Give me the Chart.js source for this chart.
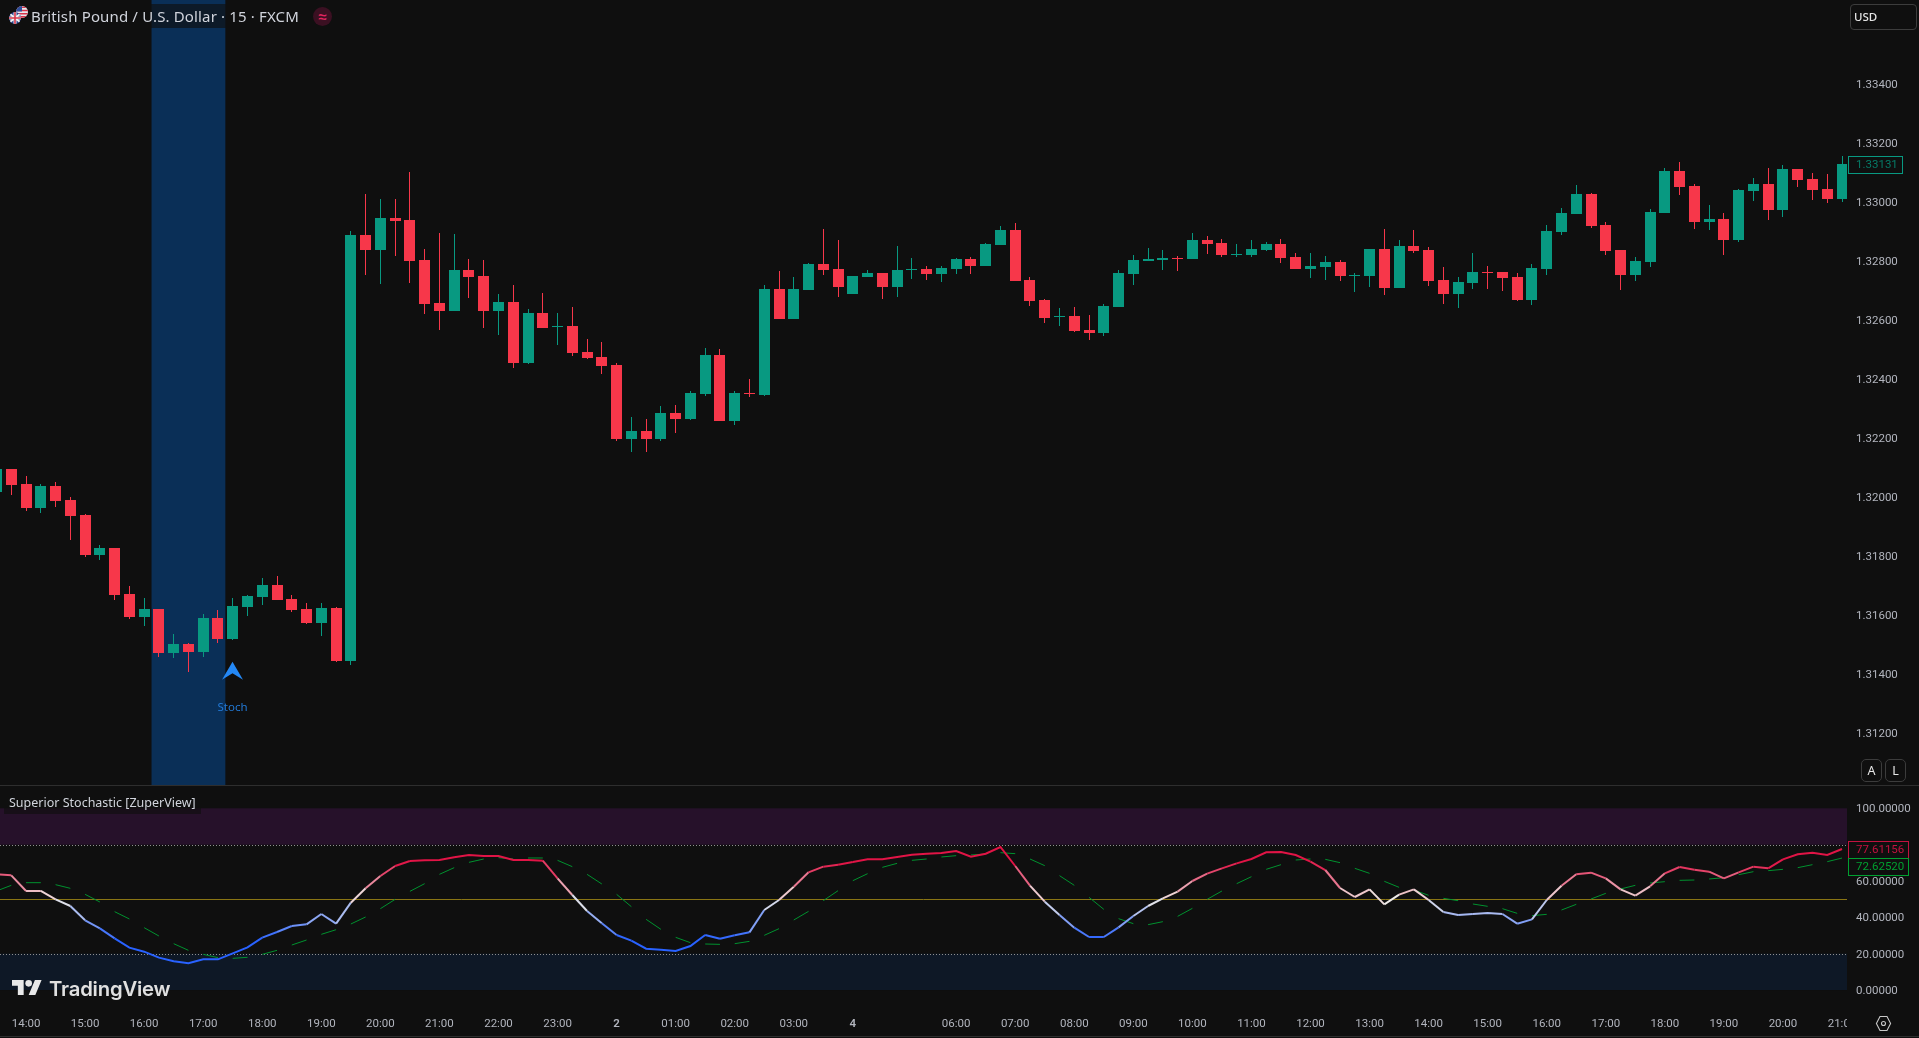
<!DOCTYPE html>
<html>
<head>
<meta charset="utf-8">
<title>British Pound / U.S. Dollar</title>
<script src="https://cdn.jsdelivr.net/npm/chart.js@4"></script>
<style>
  html, body { margin: 0; padding: 0; width: 1919px; height: 1038px; overflow: hidden; background: #0f0f0f; }
  body { font-family: "Noto Sans", sans-serif; color: #d1d4dc; }
  canvas { position: absolute; left: 0; }
  #priceCanvas { top: 0; }
  #stochCanvas { top: 786px; }
  .abs { position: absolute; }
  #title { left: 0; top: 4px; height: 24px; width: 336px; background: rgba(15,15,15,0.65); }
  #titleText { left: 31px; top: 4px; height: 24px; line-height: 24px; font-size: 15px; letter-spacing: 0.15px; color: #d1d4dc; white-space: nowrap; }
  #badge { left: 313px; top: 7px; width: 19px; height: 19px; border-radius: 50%; background: #3b1022; color: #e0245e; text-align: center; line-height: 18px; font-size: 15px; font-weight: 700; }
  #usd { left: 1850px; top: 4px; width: 65px; height: 24px; border: 1px solid #3c3c3c; border-radius: 4px; line-height: 24px; font-size: 11.5px; font-weight: 500; color: #e6e6e6; text-indent: 3px; }
  .btn { top: 759px; width: 19px; height: 21px; border: 1px solid #3c3c3c; border-radius: 5px; text-align: center; line-height: 21px; font-size: 12.5px; color: #e6e6e6; }
  #sep { left: 0; top: 785px; width: 1919px; height: 1px; background: #2e2e2e; }
  #paneName { left: 4px; top: 792px; height: 22px; width: 197px; background: rgba(15,15,15,0.65); }
  #paneNameText { left: 9px; top: 792px; height: 22px; line-height: 22px; font-size: 12.5px; color: #d1d4dc; white-space: nowrap; }
  #logoText { left: 49px; top: 976px; line-height: 26px; font-family: Inter, sans-serif; font-size: 20.3px; font-weight: 600; color: #e0e0e0; letter-spacing: -0.2px; }
  #corner { left: 1847px; top: 1010px; width: 72px; height: 26px; background: #0f0f0f; }
  #bottom { left: 0; top: 1036px; width: 1919px; height: 1px; background: #2e2e2e; }
</style>
</head>
<body>
<canvas id="priceCanvas" width="1919" height="786"></canvas>
<canvas id="stochCanvas" width="1919" height="252"></canvas>

<div class="abs" id="title"></div>
<svg class="abs" style="left:7px;top:5px" width="24" height="24" viewBox="0 0 24 24">
  <defs><clipPath id="usClip"><circle cx="15" cy="7" r="6"/></clipPath><clipPath id="ukClip"><circle cx="8" cy="13" r="6"/></clipPath></defs>
  <g clip-path="url(#usClip)">
    <rect x="9" y="1" width="12" height="12" fill="#e8e8ee"/>
    <path d="M9 1.5h12v1.6H9zM9 4.7h12v1.6H9zM9 7.9h12v1.6H9zM9 11.1h12v1.6H9z" fill="#d8344a"/>
    <rect x="9" y="1" width="6" height="5.5" fill="#2f4f9a"/>
  </g>
  <g clip-path="url(#ukClip)">
    <rect x="2" y="7" width="12" height="12" fill="#27408b"/>
    <path d="M3 9l10 8M13 9L3 17" stroke="#f0f0f0" stroke-width="2"/>
    <path d="M8 7v12M2 13h12" stroke="#f0f0f0" stroke-width="3"/>
    <path d="M8 7v12M2 13h12" stroke="#d8344a" stroke-width="1.6"/>
  </g>
</svg>
<div class="abs" id="titleText">British Pound / U.S. Dollar · 15 · FXCM</div>
<div class="abs" id="badge">≈</div>
<div class="abs" id="usd">USD</div>
<div class="abs btn" style="left:1861px">A</div>
<div class="abs btn" style="left:1885px">L</div>
<div class="abs" id="sep"></div>
<div class="abs" id="paneName"></div>
<div class="abs" id="paneNameText">Superior Stochastic [ZuperView]</div>
<svg class="abs" style="left:12px;top:980px" width="30" height="15" viewBox="0 4 36 18">
  <path fill="#e8e8e8" d="M14 22H7V11H0V4h14v18zM28 22h-8l7.5-18h8L28 22z"/><circle fill="#e8e8e8" cx="20" cy="8" r="4"/>
</svg>
<div class="abs" id="logoText">TradingView</div>
<div class="abs" id="corner">
  <svg style="position:absolute;left:28px;top:5px" width="17" height="17" viewBox="0 0 17 17" fill="none" stroke="#c8c8c8" stroke-width="1.1">
    <path d="M5 1.5h7l3.6 7-3.6 7H5l-3.6-7z"/><circle cx="8.5" cy="8.5" r="2"/>
  </svg>
</div>
<div class="abs" id="bottom"></div>

<script>
// candles, oldest first; the first one is only just on screen at the left edge
const opens = [
  1.32018, 1.32096, 1.32045, 1.31964, 1.32039, 1.31991, 1.31940, 1.31805, 1.31829, 1.31673, 1.31595, 1.31622, 1.31473,
  1.31503, 1.31476, 1.31591, 1.31520, 1.31629, 1.31662, 1.31703, 1.31656, 1.31622, 1.31574, 1.31625, 1.31445, 1.32890,
  1.32839, 1.32947, 1.32940, 1.32805, 1.32659, 1.32632, 1.32771, 1.32751, 1.32632, 1.32662, 1.32456, 1.32625, 1.32578,
  1.32581, 1.32493, 1.32476, 1.32449, 1.32198, 1.32225, 1.32198, 1.32286, 1.32266, 1.32350, 1.32483, 1.32259, 1.32354,
  1.32347, 1.32706, 1.32605, 1.32703, 1.32791, 1.32774, 1.32689, 1.32747, 1.32761, 1.32713, 1.32771, 1.32774, 1.32757,
  1.32774, 1.32808, 1.32784, 1.32856, 1.32906, 1.32737, 1.32669, 1.32611, 1.32615, 1.32567, 1.32557, 1.32645, 1.32757,
  1.32801, 1.32805, 1.32812, 1.32808, 1.32873, 1.32862, 1.32822, 1.32822, 1.32839, 1.32859, 1.32815, 1.32774, 1.32781,
  1.32798, 1.32750, 1.32750, 1.32842, 1.32710, 1.32852, 1.32839, 1.32737, 1.32689, 1.32727, 1.32764, 1.32764, 1.32747,
  1.32669, 1.32774, 1.32900, 1.32961, 1.33028, 1.32923, 1.32839, 1.32754, 1.32798, 1.32964, 1.33106, 1.33056, 1.32934,
  1.32944, 1.32873, 1.33039, 1.33062, 1.32974, 1.33113, 1.33079, 1.33045, 1.33012
];
const highs = [
  1.32100, 1.32096, 1.32073, 1.32045, 1.32052, 1.32001, 1.31944, 1.31839, 1.31829, 1.31700, 1.31659, 1.31622, 1.31537,
  1.31506, 1.31605, 1.31618, 1.31659, 1.31669, 1.31727, 1.31734, 1.31669, 1.31642, 1.31642, 1.31629, 1.32903, 1.33028,
  1.33012, 1.33012, 1.33103, 1.32842, 1.32896, 1.32893, 1.32808, 1.32805, 1.32690, 1.32720, 1.32639, 1.32693, 1.32625,
  1.32645, 1.32537, 1.32527, 1.32456, 1.32273, 1.32266, 1.32310, 1.32313, 1.32361, 1.32506, 1.32503, 1.32361, 1.32401,
  1.32720, 1.32767, 1.32747, 1.32795, 1.32910, 1.32873, 1.32750, 1.32771, 1.32761, 1.32852, 1.32811, 1.32784, 1.32784,
  1.32811, 1.32815, 1.32862, 1.32920, 1.32930, 1.32747, 1.32672, 1.32642, 1.32645, 1.32618, 1.32656, 1.32771, 1.32822,
  1.32845, 1.32839, 1.32818, 1.32896, 1.32886, 1.32876, 1.32859, 1.32873, 1.32866, 1.32876, 1.32828, 1.32828, 1.32818,
  1.32805, 1.32761, 1.32842, 1.32910, 1.32873, 1.32906, 1.32849, 1.32781, 1.32747, 1.32828, 1.32784, 1.32764, 1.32761,
  1.32791, 1.32923, 1.32981, 1.33059, 1.33032, 1.32934, 1.32839, 1.32815, 1.32978, 1.33117, 1.33137, 1.33062, 1.32991,
  1.32964, 1.33045, 1.33083, 1.33117, 1.33127, 1.33113, 1.33100, 1.33096, 1.33157
];
const lows = [
  1.32015, 1.32008, 1.31954, 1.31947, 1.31967, 1.31856, 1.31798, 1.31788, 1.31652, 1.31588, 1.31564, 1.31459, 1.31456,
  1.31408, 1.31459, 1.31506, 1.31517, 1.31598, 1.31635, 1.31652, 1.31612, 1.31571, 1.31530, 1.31442, 1.31432, 1.32754,
  1.32723, 1.32818, 1.32727, 1.32622, 1.32567, 1.32632, 1.32676, 1.32574, 1.32550, 1.32439, 1.32452, 1.32574, 1.32517,
  1.32479, 1.32469, 1.32418, 1.32191, 1.32154, 1.32154, 1.32191, 1.32218, 1.32262, 1.32344, 1.32259, 1.32245, 1.32340,
  1.32344, 1.32605, 1.32605, 1.32703, 1.32754, 1.32679, 1.32689, 1.32747, 1.32672, 1.32679, 1.32740, 1.32737, 1.32730,
  1.32757, 1.32757, 1.32784, 1.32856, 1.32734, 1.32649, 1.32591, 1.32581, 1.32561, 1.32534, 1.32547, 1.32645, 1.32720,
  1.32801, 1.32771, 1.32767, 1.32808, 1.32825, 1.32815, 1.32815, 1.32815, 1.32835, 1.32795, 1.32774, 1.32744, 1.32737,
  1.32733, 1.32696, 1.32713, 1.32686, 1.32710, 1.32828, 1.32717, 1.32656, 1.32642, 1.32706, 1.32706, 1.32700, 1.32666,
  1.32652, 1.32754, 1.32890, 1.32961, 1.32913, 1.32822, 1.32703, 1.32734, 1.32781, 1.32964, 1.33025, 1.32910, 1.32906,
  1.32822, 1.32866, 1.33005, 1.32940, 1.32951, 1.33052, 1.33008, 1.32998, 1.33001
];
const closes = [
  1.32096, 1.32042, 1.31964, 1.32039, 1.31988, 1.31937, 1.31805, 1.31829, 1.31669, 1.31595, 1.31622, 1.31473, 1.31503,
  1.31476, 1.31591, 1.31520, 1.31632, 1.31666, 1.31703, 1.31652, 1.31618, 1.31574, 1.31625, 1.31445, 1.32890, 1.32839,
  1.32947, 1.32937, 1.32801, 1.32656, 1.32632, 1.32771, 1.32747, 1.32632, 1.32662, 1.32456, 1.32625, 1.32574, 1.32581,
  1.32489, 1.32473, 1.32445, 1.32198, 1.32225, 1.32198, 1.32286, 1.32266, 1.32354, 1.32483, 1.32259, 1.32354, 1.32350,
  1.32706, 1.32605, 1.32706, 1.32791, 1.32771, 1.32713, 1.32750, 1.32761, 1.32713, 1.32771, 1.32774, 1.32757, 1.32778,
  1.32808, 1.32784, 1.32859, 1.32906, 1.32734, 1.32666, 1.32608, 1.32615, 1.32564, 1.32557, 1.32649, 1.32761, 1.32805,
  1.32808, 1.32812, 1.32808, 1.32873, 1.32859, 1.32822, 1.32825, 1.32842, 1.32859, 1.32812, 1.32774, 1.32784, 1.32798,
  1.32750, 1.32754, 1.32842, 1.32710, 1.32852, 1.32835, 1.32733, 1.32689, 1.32730, 1.32764, 1.32761, 1.32744, 1.32669,
  1.32778, 1.32903, 1.32964, 1.33028, 1.32920, 1.32835, 1.32754, 1.32801, 1.32967, 1.33106, 1.33052, 1.32934, 1.32944,
  1.32873, 1.33042, 1.33062, 1.32974, 1.33113, 1.33076, 1.33042, 1.33012, 1.33131
];

// Superior Stochastic pane, same bars as the candles
const stochK = [
  63.66, 63.11, 54.49, 54.49, 49.90, 46.23, 38.34, 33.94, 28.44, 23.30, 21.10, 17.80, 15.78, 14.68, 16.88, 16.88, 20.18,
  23.48, 28.80, 31.92, 35.22, 36.14, 41.83, 36.51, 48.06, 55.95, 62.74, 68.24, 71.00, 71.36, 71.55, 73.01, 74.30, 73.75,
  73.75, 71.55, 71.55, 71.18, 61.46, 52.28, 43.48, 36.69, 30.27, 27.15, 22.75, 22.20, 21.46, 24.22, 30.27, 28.25, 30.09,
  31.74, 44.03, 49.53, 56.87, 64.76, 67.88, 68.98, 70.45, 71.91, 71.91, 73.20, 74.48, 75.03, 75.40, 76.50, 73.38, 75.03,
  78.70, 68.24, 57.42, 48.62, 41.28, 34.31, 29.17, 29.17, 34.49, 40.73, 46.23, 50.45, 54.12, 59.99, 64.02, 66.96, 69.71,
  72.10, 75.77, 75.95, 74.30, 70.63, 66.04, 56.14, 51.18, 55.40, 47.15, 52.47, 55.40, 49.53, 42.93, 41.28, 41.83, 42.38,
  41.83, 36.51, 38.89, 49.53, 57.42, 63.66, 64.57, 61.46, 55.40, 51.92, 57.05, 64.21, 67.69, 66.23, 65.13, 61.46, 64.76,
  67.88, 66.96, 71.91, 74.66, 75.58, 74.30, 77.61
];
const stochD = [
  54.49, 57.60, 59.07, 59.07, 57.97, 55.95, 52.65, 48.43, 43.11, 39.08, 34.31, 29.72, 25.50, 21.83, 19.63, 17.80, 17.43,
  17.98, 19.63, 21.83, 24.77, 27.52, 30.64, 33.20, 36.32, 40.18, 44.76, 49.90, 54.30, 58.52, 63.66, 67.33, 70.26, 72.10,
  72.83, 72.10, 72.65, 72.65, 71.36, 67.88, 63.66, 58.34, 52.65, 45.86, 38.89, 33.39, 28.99, 26.05, 25.32, 25.13, 25.50,
  26.78, 30.09, 33.76, 38.52, 43.29, 49.17, 54.67, 60.17, 64.02, 67.51, 69.71, 71.36, 72.10, 73.20, 73.93, 74.30, 74.85,
  75.58, 75.03, 72.10, 68.43, 62.92, 57.60, 51.00, 44.40, 39.26, 36.51, 35.96, 37.61, 40.54, 44.95, 49.90, 54.49, 58.52,
  62.37, 66.41, 68.98, 71.55, 72.10, 71.91, 70.08, 66.96, 64.21, 59.81, 56.50, 55.04, 52.10, 50.45, 49.17, 47.33, 46.05,
  44.76, 42.19, 40.91, 41.64, 44.03, 47.15, 50.08, 53.20, 55.59, 57.60, 58.89, 59.62, 60.36, 60.54, 61.09, 61.82, 63.47,
  65.13, 65.68, 66.41, 67.33, 68.98, 70.63, 72.63
];

const priceTicks = [1.312, 1.314, 1.316, 1.318, 1.32, 1.322, 1.324, 1.326, 1.328, 1.33, 1.332, 1.334];
const stochTicks = [0, 20, 40, 60, 80, 100];
const timeBars = [2, 6, 10, 14, 18, 22, 26, 30, 34, 38, 42, 46, 50, 54, 58, 65, 69, 73, 77, 81, 85, 89, 93, 97, 101, 105, 109, 113, 117, 121, 125];
const timeLabels = ['14:00', '15:00', '16:00', '17:00', '18:00', '19:00', '20:00', '21:00', '22:00', '23:00', '2', '01:00', '02:00', '03:00', '4', '06:00', '07:00', '08:00', '09:00', '10:00', '11:00', '12:00', '13:00', '14:00', '15:00', '16:00', '17:00', '18:00', '19:00', '20:00', '21:00'];

const signalBars = [11, 15];      // bars behind the blue highlight
const arrowBar = 16;
const arrowPrice = 1.31443;
const lastClose = 1.33131;
const overbought = [80, 100];
const oversold = [0, 20];
const midLevel = 50;

const GREEN = '#089981';
const RED = '#f7374a';
const AXIS_TEXT = '#b2b5be';
const AXIS_FONT = { family: 'Roboto', size: 11.5 };
// x view shared by both panes, and the width of the right hand axis
const X_MIN = 0.236;
const X_MAX = 125.338;
const AXIS_WIDTH = 72;

const bars = opens.map((_, i) => i);
const candleColors = opens.map((o, i) => (closes[i] >= o ? GREEN : RED));

// TradingView snaps candles to whole pixels, do the same so the edges stay sharp
const snapCandlesPlugin = {
  id: 'snapCandles',
  beforeDatasetsDraw(chart) {
    chart.getSortedVisibleDatasetMetas().forEach((meta) => {
      meta.data.forEach((bar) => {
        bar.x = Math.floor(bar.x) + 0.5;
        bar.y = Math.round(bar.y);
        bar.base = Math.round(bar.base);
        if (bar.base === bar.y) bar.base += 1;
      });
    });
  },
};

const highlightPlugin = {
  id: 'highlight',
  beforeDatasetsDraw(chart) {
    const { ctx, chartArea, scales } = chart;
    const left = scales.x.getPixelForValue(signalBars[0] - 0.5);
    const right = scales.x.getPixelForValue(signalBars[1] + 0.5);
    ctx.save();
    ctx.fillStyle = '#0a2f57';
    ctx.fillRect(left, chartArea.top, right - left, chartArea.bottom - chartArea.top);
    ctx.restore();
  },
};

const markerPlugin = {
  id: 'marker',
  afterDatasetsDraw(chart) {
    const { ctx, scales } = chart;
    const x = Math.floor(scales.x.getPixelForValue(arrowBar)) + 0.5;
    const y = scales.y.getPixelForValue(arrowPrice);
    ctx.save();
    ctx.fillStyle = '#2488f5';
    ctx.beginPath();
    ctx.moveTo(x, y);
    ctx.lineTo(x + 10.5, y + 18);
    ctx.lineTo(x, y + 11.5);
    ctx.lineTo(x - 10.5, y + 18);
    ctx.closePath();
    ctx.fill();
    ctx.fillStyle = '#2278d4';
    ctx.font = '11.5px "Noto Sans"';
    ctx.textAlign = 'center';
    ctx.textBaseline = 'middle';
    ctx.fillText('Stoch', x, y + 46);
    ctx.restore();
  },
};

function drawValueTag(ctx, y, width, text, color, textColor) {
  const top = Math.round(y) - 7;
  ctx.fillStyle = '#0f0f0f';
  ctx.fillRect(1848, top, width, 16);
  ctx.strokeStyle = color;
  ctx.lineWidth = 1;
  ctx.strokeRect(1848.5, top - 0.5, width, 17);
  ctx.fillStyle = textColor;
  ctx.font = '11.5px Roboto';
  ctx.textAlign = 'left';
  ctx.textBaseline = 'middle';
  ctx.fillText(text, 1856, top + 8.5);
}

const lastPricePlugin = {
  id: 'lastPrice',
  afterDraw(chart) {
    const { ctx, scales } = chart;
    ctx.save();
    drawValueTag(ctx, scales.y.getPixelForValue(lastClose), 54, lastClose.toFixed(5), GREEN, '#067a67');
    ctx.restore();
  },
};

const stochLevelsPlugin = {
  id: 'stochLevels',
  beforeDatasetsDraw(chart) {
    const { ctx, chartArea, scales } = chart;
    const y = scales.y;
    const band = (range, color) => {
      ctx.fillStyle = color;
      ctx.fillRect(0, y.getPixelForValue(range[1]), chartArea.right, y.getPixelForValue(range[0]) - y.getPixelForValue(range[1]));
    };
    const level = (value, color, dash) => {
      const py = Math.round(y.getPixelForValue(value)) + 0.5;
      ctx.strokeStyle = color;
      ctx.lineWidth = 1;
      ctx.setLineDash(dash);
      ctx.beginPath();
      ctx.moveTo(0, py);
      ctx.lineTo(chartArea.right, py);
      ctx.stroke();
    };
    ctx.save();
    band(overbought, '#26112a');
    band(oversold, '#0e1826');
    level(overbought[0], '#8f8f8f', [1, 2]);
    level(oversold[1], '#8f8f8f', [1, 2]);
    level(midLevel, '#8a7514', []);
    ctx.restore();
  },
  afterDraw(chart) {
    const { ctx, scales } = chart;
    const kY = scales.y.getPixelForValue(stochK[stochK.length - 1]);
    const dY = Math.max(scales.y.getPixelForValue(stochD[stochD.length - 1]), kY + 17);
    ctx.save();
    drawValueTag(ctx, kY, 60, '77.61156', '#c2123f', '#c2123f');
    drawValueTag(ctx, dY, 60, '72.62520', '#00a030', '#00a030');
    ctx.restore();
  },
};

// blue under 50, white around 50, crimson above
function stochColor(value) {
  const low = [41, 98, 255];
  const mid = [240, 236, 232];
  const high = [225, 20, 70];
  let to = high;
  let t = (value - 50) / 20;
  if (value < 50) {
    to = low;
    t = (50 - value) / 22;
  }
  t = Math.min(1, Math.max(0, t));
  const rgb = mid.map((c, i) => Math.round(c + (to[i] - c) * t));
  return `rgb(${rgb.join(',')})`;
}

// chart.js reserves half a label above and below, the panes run edge to edge here
const noPadding = (scale) => {
  scale.paddingTop = 0;
  scale.paddingBottom = 0;
  scale.paddingLeft = 0;
  scale.paddingRight = 0;
};

const sideAxis = (ticks, format) => ({
  position: 'right',
  grid: { display: false, drawTicks: false },
  border: { display: false },
  afterFit(scale) {
    scale.width = AXIS_WIDTH;
    noPadding(scale);
  },
  afterBuildTicks(scale) { scale.ticks = ticks.map((value) => ({ value })); },
  ticks: { color: AXIS_TEXT, font: AXIS_FONT, padding: 9, labelOffset: 1, callback: format },
});

new Chart(document.getElementById('priceCanvas'), {
  type: 'bar',
  plugins: [highlightPlugin, snapCandlesPlugin, markerPlugin, lastPricePlugin],
  data: {
    datasets: [
      {
        label: 'Wick',
        data: bars.map((x, i) => ({ x, y: [lows[i], highs[i]] })),
        backgroundColor: candleColors,
        barThickness: 1,
        grouped: false,
        inflateAmount: 0,
        order: 2,
      },
      {
        label: 'Body',
        data: bars.map((x, i) => ({ x, y: [opens[i], closes[i]] })),
        backgroundColor: candleColors,
        barThickness: 11,
        grouped: false,
        inflateAmount: 0,
        order: 1,
      },
    ],
  },
  options: {
    responsive: false,
    animation: false,
    events: [],
    layout: { padding: 0 },
    plugins: { legend: { display: false }, tooltip: { enabled: false } },
    scales: {
      x: { type: 'linear', display: false, offset: false, min: X_MIN, max: X_MAX },
      y: { ...sideAxis(priceTicks, (v) => v.toFixed(5)), min: 1.310217, max: 1.336861 },
    },
  },
});

new Chart(document.getElementById('stochCanvas'), {
  type: 'line',
  plugins: [stochLevelsPlugin],
  data: {
    datasets: [
      {
        label: '%K',
        data: bars.map((x, i) => ({ x, y: stochK[i] })),
        borderWidth: 2,
        pointRadius: 0,
        tension: 0,
        segment: { borderColor: (ctx) => stochColor((ctx.p0.parsed.y + ctx.p1.parsed.y) / 2) },
        order: 1,
      },
      {
        label: '%D',
        data: bars.map((x, i) => ({ x, y: stochD[i] })),
        borderWidth: 1,
        borderColor: '#00922f',
        pointRadius: 0,
        tension: 0,
        // the signal line only shows on every other bar
        segment: { borderColor: (ctx) => (ctx.p0DataIndex % 2 === 0 ? '#00922f' : 'transparent') },
        order: 2,
      },
    ],
  },
  options: {
    responsive: false,
    animation: false,
    events: [],
    layout: { padding: 0 },
    plugins: { legend: { display: false }, tooltip: { enabled: false } },
    scales: {
      x: {
        type: 'linear',
        offset: false,
        min: X_MIN,
        max: X_MAX,
        grid: { display: false, drawTicks: false },
        border: { display: false },
        afterFit(scale) {
          scale.height = 28;
          noPadding(scale);
        },
        afterBuildTicks(scale) { scale.ticks = timeBars.map((value) => ({ value })); },
        ticks: {
          autoSkip: false,
          maxRotation: 0,
          padding: 7,
          color: AXIS_TEXT,
          font: (ctx) => ({ ...AXIS_FONT, weight: ctx.tick && ctx.tick.label.length === 1 ? '600' : '400' }),
          callback: (v, i) => timeLabels[i],
        },
      },
      y: { ...sideAxis(stochTicks, (v) => v.toFixed(5)), min: -11, max: 112.27 },
    },
  },
});
</script>
</body>
</html>
